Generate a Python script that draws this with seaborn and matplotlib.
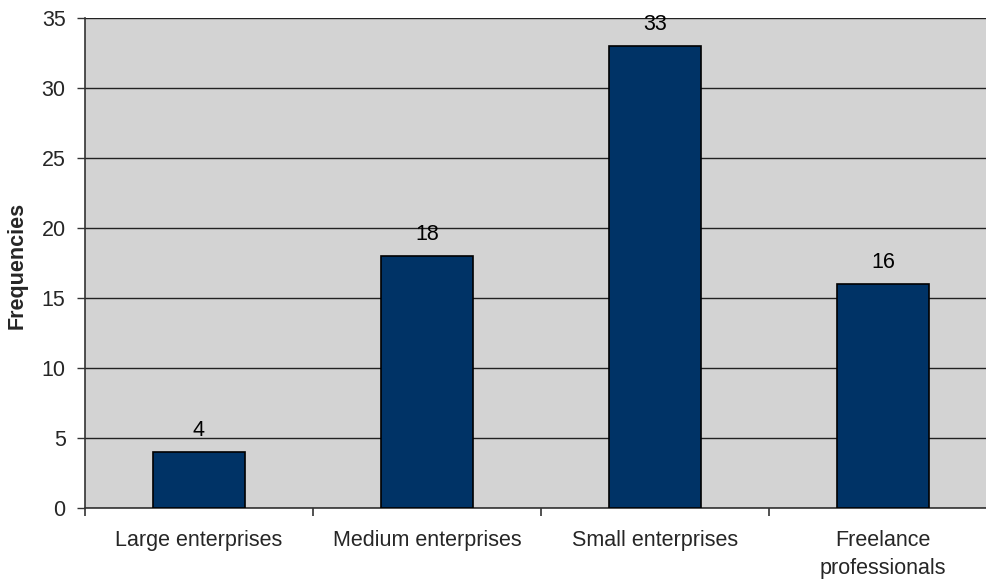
import matplotlib
matplotlib.use("Agg")
import matplotlib.pyplot as plt
import seaborn as sns
import pandas as pd
import numpy as np

categories = ["Large enterprises", "Medium enterprises", "Small enterprises", "Freelance\nprofessionals"]
frequencies = [4, 18, 33, 16]
y_ticks = [0, 5, 10, 15, 20, 25, 30, 35]

sns.set_style("white")
plt.rcParams['font.family'] = ['Liberation Sans', 'DejaVu Sans']

df = pd.DataFrame({"category": categories, "freq": frequencies})

fig = plt.figure(figsize=(9.87, 5.86), dpi=100)
ax = fig.add_axes([85/987, 78/586, 912/987, 490/586])
ax.set_facecolor("#d3d3d3")

sns.barplot(data=df, x="category", y="freq", color="#003366", saturation=1,
            width=0.4, edgecolor="black", linewidth=1.2, ax=ax, zorder=3)

ax.set_xlim(-0.5, 3.5)
ax.set_ylim(0, 35)
ax.set_yticks(y_ticks)
ax.grid(axis="y", color="#222222", linewidth=1.0, zorder=1)
ax.set_axisbelow(True)

for i, v in enumerate(frequencies):
    ax.text(i, v + 0.75, str(v), ha="center", va="bottom", fontsize=15.5, color="black")

for s in ["top", "right"]:
    ax.spines[s].set_visible(False)
for s in ["left", "bottom"]:
    ax.spines[s].set_color("#333333")
    ax.spines[s].set_linewidth(1.2)

ax.tick_params(axis="y", which="major", direction="out", length=6, width=1, color="#333333",
               labelsize=15.5, left=True, pad=8)
ax.set_xticks(np.arange(-0.5, 4.0, 1.0), minor=True)
ax.tick_params(axis="x", which="minor", direction="out", length=6, width=1.2, color="#333333", bottom=True)
ax.tick_params(axis="x", which="major", length=0, labelsize=15.5, pad=16)
for lbl in ax.get_xticklabels():
    lbl.set_linespacing(1.4)

ax.set_xlabel("")
ax.set_ylabel("")
fig.text(17/987, (586 - 265)/586, "Frequencies", rotation=90, ha="center", va="center",
         fontsize=15.5, fontweight="bold")

fig.savefig("out.png", dpi=100)
